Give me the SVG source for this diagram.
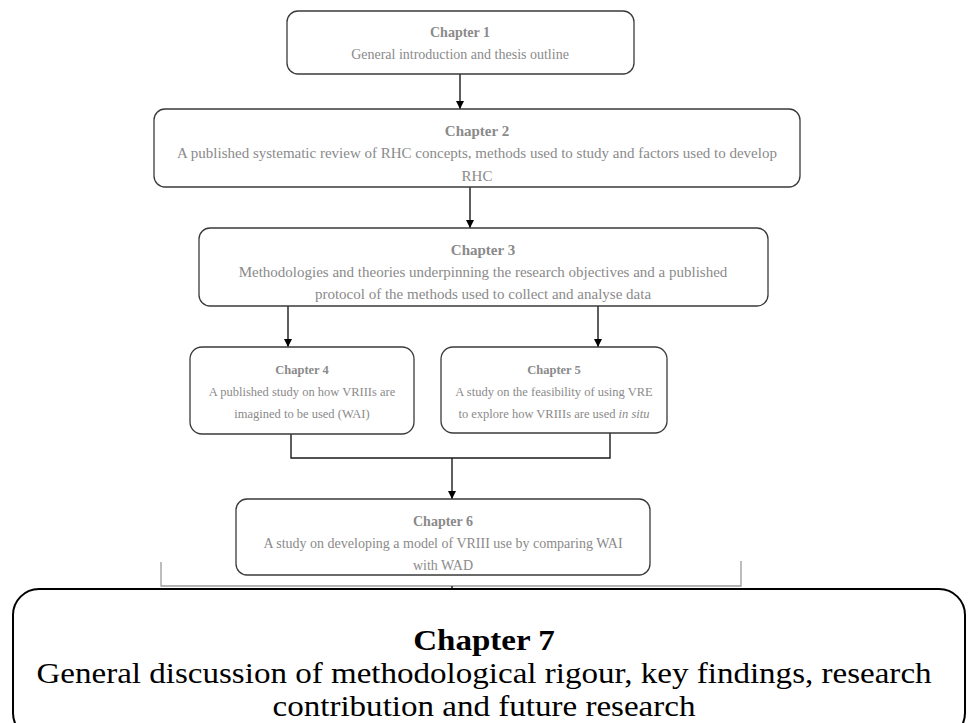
<svg xmlns="http://www.w3.org/2000/svg" width="969" height="723" viewBox="0 0 969 723">
  <style>
    .box { fill: #ffffff; stroke: #3a3a3a; stroke-width: 1.3; }
    .big { fill: #ffffff; stroke: #000000; stroke-width: 2; }
    .t { font-family: "Liberation Serif", "Times New Roman", serif; font-size: 14px; fill: #8a8a8a; text-anchor: middle; }
    .m { font-size: 15px; }
    .s { font-size: 12.5px; }
    .h { font-weight: bold; }
    .t7 { font-family: "Liberation Serif", "Times New Roman", serif; font-size: 29px; fill: #000000; text-anchor: middle; }
    .link { fill: none; stroke: #1a1a1a; stroke-width: 1.4; }
    .rail { fill: none; stroke: #9a9a9a; stroke-width: 1.3; }
  </style>
  <defs>
    <marker id="arrow" viewBox="0 0 10 10" refX="10" refY="5" markerWidth="8" markerHeight="8" markerUnits="userSpaceOnUse" orient="auto">
      <path d="M0,0 L10,5 L0,10 Z" fill="#000000"/>
    </marker>
  </defs>
  <rect width="969" height="723" fill="#ffffff"/>

  <!-- connectors -->
  <g id="connectors">
    <line class="link" x1="460" y1="74" x2="460" y2="109" marker-end="url(#arrow)"/>
    <line class="link" x1="470" y1="187" x2="470" y2="228" marker-end="url(#arrow)"/>
    <line class="link" x1="288" y1="306" x2="288" y2="347" marker-end="url(#arrow)"/>
    <line class="link" x1="598" y1="306" x2="598" y2="347" marker-end="url(#arrow)"/>
    <path class="link" d="M291,434 V458 H610 V433"/>
    <line class="link" x1="452" y1="458" x2="452" y2="499" marker-end="url(#arrow)"/>
    <path class="rail" d="M161,562 V586 H741 V561"/>
    <line class="link" x1="452" y1="586" x2="452" y2="590"/>
  </g>

  <g id="ch1">
    <rect class="box" x="287" y="11" width="347" height="63" rx="11"/>
    <text class="t h" x="460" y="37">Chapter 1</text>
    <text class="t" x="460" y="59">General introduction and thesis outline</text>
  </g>

  <g id="ch2">
    <rect class="box" x="154" y="109" width="646" height="78" rx="11"/>
    <text class="t m h" x="477" y="136">Chapter 2</text>
    <text class="t m" x="477" y="158">A published systematic review of RHC concepts, methods used to study and factors used to develop</text>
    <text class="t m" x="477" y="181">RHC</text>
  </g>

  <g id="ch3">
    <rect class="box" x="199" y="228" width="569" height="78" rx="11"/>
    <text class="t m h" x="483" y="255">Chapter 3</text>
    <text class="t m" x="483" y="277">Methodologies and theories underpinning the research objectives and a published</text>
    <text class="t m" x="483" y="299">protocol of the methods used to collect and analyse data</text>
  </g>

  <g id="ch4">
    <rect class="box" x="190" y="347" width="224" height="87" rx="12"/>
    <text class="t s h" x="302" y="374">Chapter 4</text>
    <text class="t s" x="302" y="396">A published study on how VRIIIs are</text>
    <text class="t s" x="302" y="418">imagined to be used (WAI)</text>
  </g>

  <g id="ch5">
    <rect class="box" x="441" y="347" width="226" height="86" rx="12"/>
    <text class="t s h" x="554" y="374">Chapter 5</text>
    <text class="t s" x="554" y="396">A study on the feasibility of using VRE</text>
    <text class="t s" x="554" y="418">to explore how VRIIIs are used <tspan font-style="italic">in situ</tspan></text>
  </g>

  <g id="ch6">
    <rect class="box" x="236" y="499" width="414" height="76" rx="11"/>
    <text class="t h" x="443" y="526">Chapter 6</text>
    <text class="t" x="443" y="548">A study on developing a model of VRIII use by comparing WAI</text>
    <text class="t" x="443" y="570">with WAD</text>
  </g>

  <g id="ch7">
    <rect class="big" x="13" y="589" width="952" height="150" rx="26"/>
    <g transform="translate(484,0) scale(1.14,1)">
      <text class="t7 h" x="0" y="650">Chapter 7</text>
      <text class="t7" x="0" y="683">General discussion of methodological rigour, key findings, research</text>
      <text class="t7" x="0" y="716">contribution and future research</text>
    </g>
  </g>
</svg>
